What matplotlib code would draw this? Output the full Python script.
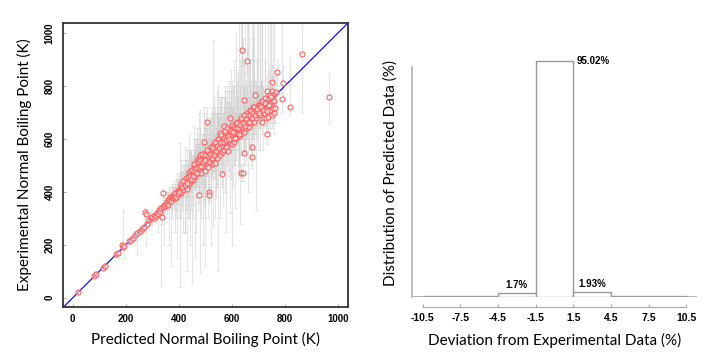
import matplotlib
matplotlib.use("Agg")
import matplotlib.pyplot as plt
import numpy as np

# predicted vs experimental normal boiling points (K)
pred = [20, 80, 88, 113, 122, 165, 170, 186, 190, 194, 211, 219, 226, 235, 244,
        254, 262, 270, 273, 275, 279, 287, 294, 300,
        305, 310, 314, 318, 322, 326, 330, 333, 337, 340, 342, 345, 348,
        352, 355, 358, 361, 364, 367, 370, 373, 376, 380, 383, 386, 389, 392, 395, 398, 400,
        403, 405, 408, 410, 413, 415, 418, 420, 423, 425, 428, 430, 432, 435, 437, 438,
        440, 442, 444, 446, 448, 450,
        452, 454, 456, 458, 460, 462, 464, 466, 468, 470, 472, 474, 476, 478, 478, 480,
        482, 484, 486, 488, 490, 492, 494, 496, 497, 499, 500,
        502, 504, 506, 508, 510, 512, 514, 516, 516, 518, 520, 522, 524, 526, 528, 530,
        532, 534, 536, 538, 540, 542, 544, 546, 548, 550,
        552, 554, 556, 558, 560, 562, 563, 565, 567, 569, 571, 572, 574, 576, 578, 580,
        582, 584, 586, 588, 590, 592, 594, 595, 597, 599, 600,
        602, 604, 606, 608, 610, 612, 614, 616, 618, 620, 622, 624, 626, 628, 630, 632,
        634, 636, 638, 640, 641, 642, 644, 646, 646, 648, 650,
        652, 654, 656, 657, 659, 661, 663, 665, 667, 669, 671, 673, 675, 677, 678, 680,
        682, 684, 686, 688, 690, 692, 694, 696, 698, 700,
        703, 705, 707, 710, 713, 716, 719, 722, 725, 728, 730, 732, 732, 734, 736, 738,
        740, 743, 746, 748, 751, 751, 753, 755, 757, 759, 761, 764, 766, 771,
        790, 795, 820, 864, 969,
        385, 391, 397, 402, 407, 412, 417, 422, 427, 431, 436, 441, 445, 449, 453, 457,
        461, 465, 469, 473, 477, 481, 485, 489, 493, 498, 501, 505, 509, 513, 517, 521,
        525, 529, 533, 537, 541, 545, 549, 553, 557, 561, 566, 570, 575, 579, 583, 587,
        591, 596, 601, 605, 609, 613, 617, 621, 625, 629, 633, 637, 643, 647, 651, 655,
        660, 664, 668, 672, 676, 681, 685, 689, 693, 697, 702, 706, 711, 715, 720, 726,
        733, 741, 749, 758]
expt = [22, 83, 91, 113, 121, 166, 170, 199, 190, 196, 214, 219, 227, 237, 243,
        253, 258, 269, 324, 316, 277, 294, 300, 306,
        300, 312, 308, 320, 318, 330, 324, 338, 306, 342, 395, 350, 345,
        356, 362, 350, 369, 372, 382, 366, 378, 385, 382, 390, 376, 398, 395, 388, 405, 398,
        412, 401, 420, 395, 428, 410, 407, 432, 418, 440, 425, 445, 412, 438, 470, 458,
        430, 450, 478, 440, 465, 455,
        480, 445, 470, 495, 460, 485, 505, 472, 490, 520, 478, 500, 530, 388, 512, 488,
        540, 470, 515, 500, 530, 495, 545, 590, 515, 480, 525,
        505, 540, 666, 520, 495, 548, 530, 401, 388, 560, 515, 540, 505, 570, 548, 525,
        555, 580, 535, 510, 565, 545, 590, 530, 575, 555,
        600, 540, 624, 570, 585, 550, 467, 605, 575, 595, 649, 560, 615, 585, 600, 570,
        620, 595, 555, 610, 635, 590, 678, 620, 600, 640, 580,
        615, 650, 600, 630, 590, 645, 620, 660, 605, 640, 625, 665, 610, 650, 635, 670,
        470, 620, 655, 937, 473, 640, 680, 546, 748, 625, 660,
        690, 640, 896, 665, 700, 650, 675, 690, 645, 710, 680, 660, 700, 571, 531, 690,
        720, 665, 705, 767, 710, 680, 716, 695, 730, 700,
        725, 705, 691, 740, 666, 720, 735, 700, 755, 715, 678, 619, 741, 783, 730, 685,
        750, 710, 765, 740, 691, 817, 780, 748, 716, 770, 700, 716, 779, 853,
        752, 813, 722, 923, 760,
        395, 380, 392, 398, 430, 418, 440, 428, 452, 433, 455, 462, 450, 482, 462, 505,
        478, 492, 470, 515, 495, 520, 498, 545, 512, 540, 520, 558, 535, 512, 545, 570,
        530, 565, 540, 590, 555, 575, 600, 565, 590, 615, 590, 605, 630, 598, 640, 612,
        600, 630, 655, 625, 645, 605, 640, 660, 640, 620, 655, 680, 660, 690, 650, 675,
        690, 665, 690, 705, 680, 700, 720, 690, 705, 715, 700, 730, 720, 745, 710, 735,
        705, 730, 760, 745]
# lower / upper ends of the grey error bars (K)
bar_lo = [15, 75, 82, 105, 112, 155, 160, 185, 180, 150, 200, 205, 212, 220, 160,
          235, 240, 250, 280, 200, 255, 270, 275, 280,
          285, 290, 295, 300, 250, 310, 300, 40, 280, 310, 370, 200, 320,
          330, 300, 330, 340, 200, 350, 120, 340, 300, 350, 330, 250, 360, 150, 330, 370, 300,
          380, 42, 390, 300, 350, 380, 250, 400, 243, 380, 330, 400, 100, 350, 420, 300,
          380, 200, 430, 330, 400, 54,
          420, 300, 410, 440, 150, 430, 380, 250, 440, 420, 330, 450, 470, 360, 400, 92,
          480, 300, 400, 460, 200, 430, 470, 540, 350, 420, 120,
          380, 480, 620, 460, 300, 500, 400, 370, 360, 510, 200, 420, 450, 520, 470, 269,
          480, 540, 300, 450, 520, 380, 540, 420, 500, 100,
          540, 300, 580, 480, 520, 420, 430, 550, 350, 540, 600, 480, 560, 400, 540, 250,
          560, 500, 460, 550, 580, 320, 630, 550, 450, 580, 200,
          560, 600, 420, 580, 500, 600, 340, 600, 520, 590, 450, 620, 500, 600, 280, 620,
          440, 540, 600, 880, 440, 560, 630, 500, 700, 540, 600,
          630, 500, 850, 600, 640, 400, 620, 560, 560, 650, 620, 500, 640, 530, 490, 600,
          660, 560, 640, 720, 660, 330, 660, 600, 680, 560,
          660, 640, 560, 680, 620, 660, 560, 650, 700, 660, 620, 580, 680, 730, 660, 620,
          700, 640, 720, 660, 640, 760, 720, 700, 660, 720, 620, 660, 730, 800,
          700, 760, 691, 698, 660,
          360, 300, 350, 370, 380, 330, 400, 250, 400, 380, 300, 410, 420, 420, 350, 440,
          430, 420, 440, 460, 400, 460, 430, 490, 380, 460, 300, 500, 470, 440, 480, 520,
          460, 500, 480, 520, 420, 500, 540, 480, 520, 540, 500, 550, 560, 520, 580, 560,
          480, 560, 600, 560, 580, 500, 580, 600, 560, 480, 600, 620, 600, 640, 560, 600,
          620, 580, 640, 640, 600, 620, 660, 620, 640, 660, 640, 680, 660, 690, 650, 680,
          650, 680, 700, 690]
bar_hi = [30, 92, 100, 122, 130, 178, 182, 212, 330, 208, 228, 232, 240, 252, 258,
          270, 275, 290, 340, 335, 295, 315, 320, 330,
          320, 330, 325, 345, 340, 350, 350, 360, 330, 370, 410, 380, 370,
          380, 400, 375, 400, 420, 410, 400, 420, 430, 420, 440, 420, 450, 470, 430, 450, 470,
          450, 584, 460, 520, 480, 470, 450, 500, 571, 520, 470, 560, 480, 500, 620, 540,
          480, 550, 560, 520, 530, 533,
          540, 520, 650, 560, 540, 600, 580, 540, 620, 640, 530, 600, 700, 420, 580, 710,
          640, 560, 600, 580, 620, 560, 700, 720, 600, 540, 650,
          620, 700, 720, 600, 560, 640, 650, 430, 420, 680, 600, 700, 560, 720, 620, 975,
          700, 760, 620, 580, 700, 640, 780, 600, 700, 800,
          700, 620, 760, 650, 720, 600, 510, 760, 650, 700, 720, 640, 800, 680, 760, 660,
          740, 720, 620, 780, 820, 680, 740, 720, 700, 860, 680,
          720, 800, 680, 900, 660, 760, 700, 1000, 680, 780, 720, 850, 700, 1040, 740, 800,
          500, 700, 1040, 1040, 510, 760, 980, 600, 800, 700, 1040,
          780, 720, 940, 1040, 800, 700, 760, 1040, 700, 900, 760, 720, 1040, 620, 580, 800,
          980, 740, 1040, 820, 800, 760, 900, 780, 1040, 780,
          800, 1040, 760, 820, 720, 1040, 800, 760, 1040, 780, 740, 660, 800, 840, 1040, 760,
          820, 760, 1040, 800, 740, 880, 840, 1040, 760, 1040, 760, 780, 840, 900,
          1040, 880, 906, 1031, 849,
          430, 420, 440, 450, 480, 470, 500, 480, 520, 500, 520, 520, 560, 540, 520, 560,
          600, 560, 520, 580, 560, 600, 580, 620, 600, 640, 600, 640, 620, 600, 650, 680,
          600, 700, 620, 720, 640, 700, 720, 680, 740, 760, 700, 760, 780, 700, 800, 740,
          720, 780, 820, 720, 800, 700, 860, 820, 760, 700, 900, 1040, 800, 900, 740, 820,
          1040, 760, 900, 820, 780, 1040, 900, 780, 820, 1040, 800, 1040, 820, 1040, 800, 900,
          780, 860, 1040, 840]

# histogram of deviations
bin_edges = [-10.5, -7.5, -4.5, -1.5, 1.5, 4.5, 7.5, 10.5]
bin_share = [0.35, 0.3, 1.7, 95.02, 1.93, 0.4, 0.3]
bin_text = {2: "1.7%", 3: "95.02%", 4: "1.93%"}

label_font = "Lato"
tick_font = {"family": "Liberation Sans", "weight": "bold", "size": 7}
hist_font = {"family": "Liberation Sans", "weight": "bold", "size": 7.5}

fig = plt.figure(figsize=(7.08, 3.6), dpi=100)

# ---- left: parity plot
ax1 = fig.add_axes([0.0886, 0.148, 0.4025, 0.789])
x = np.array(pred)
y = np.array(expt)
lo = np.array(bar_lo)
hi = np.array(bar_hi)
ax1.errorbar(x, y, yerr=[y - lo, hi - y], fmt="none", ecolor="#cccccc",
             elinewidth=0.8, capsize=1.3, capthick=0.6, alpha=0.5, zorder=1)
ax1.plot([-40, 1045], [-40, 1045], color="#1010ff", lw=0.9, zorder=2)
ax1.scatter(x, y, s=13, facecolors=(1, 1, 1, 0.5), edgecolors="#ff6060",
            linewidths=0.8, zorder=3)
ax1.set_xlim(-38, 1038)
ax1.set_ylim(-34, 1040)
ax1.set_xticks(range(0, 1001, 200))
ax1.set_yticks(range(0, 1001, 200))
for s in ax1.spines.values():
    s.set_color("#333333")
    s.set_linewidth(1.3)
ax1.tick_params(direction="in", length=2, width=0.6, color="#999999", pad=5)
ax1.tick_params(axis="y", pad=6)
for lab in ax1.get_xticklabels():
    lab.set(**tick_font)
for lab in ax1.get_yticklabels():
    lab.set(**tick_font)
    lab.set_rotation(90)
    lab.set_va("center")
ax1.set_xlabel("Predicted Normal Boiling Point (K)", family=label_font,
               size=11, labelpad=6)
ax1.set_ylabel("Experimental Normal Boiling Point (K)", family=label_font,
               size=11, labelpad=9)

# ---- right: histogram
ax2 = fig.add_axes([0.5815, 0.175, 0.4025, 0.69])
lefts = bin_edges[:-1]
ax2.bar(lefts, bin_share, width=3, align="edge", color="white",
        edgecolor="#999999", linewidth=1.0, zorder=2)
ax2.axhline(0, color="#a8a8a8", lw=1.2, zorder=1)
for i, txt in bin_text.items():
    if i == 3:
        ax2.text(lefts[i] + 3.3, bin_share[i], txt, ha="left", va="center", **tick_font)
    else:
        ax2.text(lefts[i] + 1.5, bin_share[i] + 1.2, txt, ha="center", va="bottom", **tick_font)
ax2.set_xlim(-11.38, 11.33)
ax2.set_ylim(0, 100)
ax2.spines["top"].set_visible(False)
ax2.spines["right"].set_visible(False)
ax2.spines["left"].set_color("#b0b0b0")
ax2.spines["left"].set_linewidth(1.2)
ax2.spines["left"].set_bounds(0, 92.6)
ax2.spines["bottom"].set_position(("outward", 7.5))
ax2.spines["bottom"].set_bounds(-10.5, 10.5)
ax2.spines["bottom"].set_color("#a8a8a8")
ax2.set_yticks([])
ax2.set_xticks(bin_edges)
ax2.set_xticklabels(["-10.5", "-7.5", "-4.5", "-1.5", "1.5", "4.5", "7.5", "10.5"])
ax2.tick_params(axis="x", direction="in", length=2.5, color="#a8a8a8", pad=4)
for lab in ax2.get_xticklabels():
    lab.set(**hist_font)
ax2.set_xlabel("Deviation from Experimental Data (%)", family=label_font,
               size=11, labelpad=7)
ax2.set_ylabel("Distribution of Predicted Data (%)", family=label_font,
               size=11, labelpad=10)

fig.savefig("out.png", dpi=100)
